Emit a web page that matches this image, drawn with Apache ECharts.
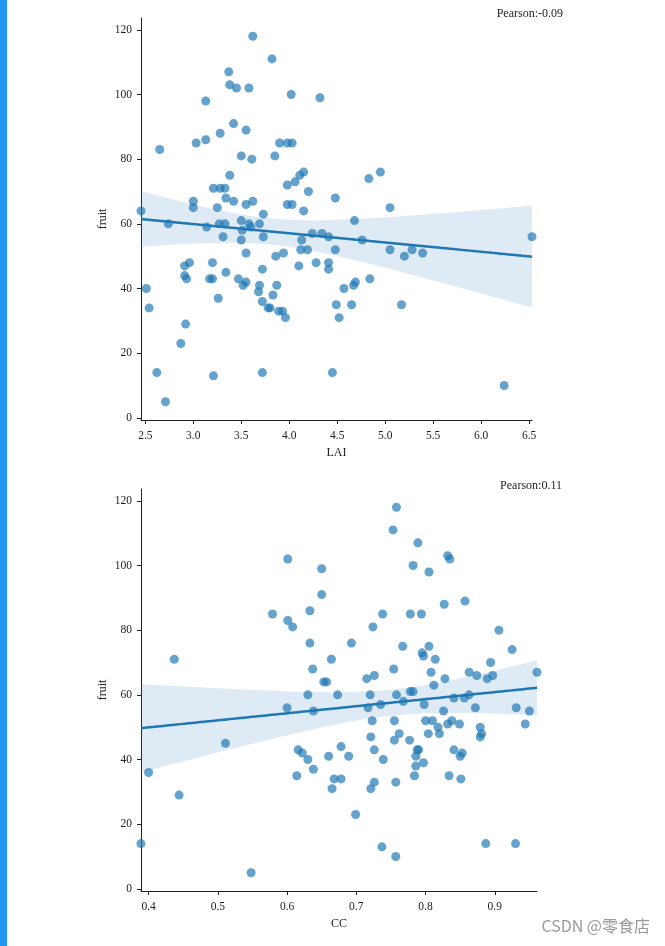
<!DOCTYPE html>
<html>
<head>
<meta charset="utf-8">
<script src="https://cdn.jsdelivr.net/npm/echarts@6/dist/echarts.min.js"></script>
<style>
html,body{margin:0;padding:0;background:#fff;}
#chart{width:665px;height:946px;}
</style>
</head>
<body>
<div id="chart"></div>
<script>
// LAI vs fruit
const laiPoints = [
[2.455,64],[2.65,83],[2.74,60],[3.0,67],[3.0,65],[3.03,85],[3.13,98],[3.13,86],[3.21,71],[3.25,65],
[3.28,88],[3.28,71],[3.33,71],[3.34,68],[3.37,107],[3.38,103],[3.38,75],[3.42,91],[3.42,67],[3.45,102],
[3.5,81],[3.55,89],[3.55,66],[3.58,102],[3.61,80],[3.62,118],[3.62,67],[3.82,111],[3.85,81],[3.9,85],
[3.98,85],[4.03,85],[4.02,100],[3.98,72],[3.98,66],[4.03,66],[4.06,73],[4.11,75],[4.15,76],[4.15,64],
[4.2,70],[4.32,99],[4.48,68],[4.68,61],[4.83,74],[4.95,76],[5.05,65],
[3.5,61],[3.58,60],[3.69,60],[3.73,63],
[3.14,59],[3.27,60],[3.33,60],[3.31,56],[3.51,58],[3.5,55],[3.6,59],[3.73,56],[3.55,51],[3.86,50],
[3.94,51],[4.13,55],[4.12,52],[4.19,52],[4.24,57],[4.34,57],[4.41,56],[4.48,52],[4.76,55],[5.05,52],
[5.2,50],[5.28,52],[5.39,51],[6.53,56],[2.91,47],[2.96,48],[2.91,44],[2.93,43],[2.51,40],[2.54,34],
[3.2,48],[3.17,43],[3.2,43],[3.34,45],[3.26,37],[2.92,29],[2.87,23],[2.62,14],[2.71,5],[3.21,13],
[3.47,43],[3.52,41],[3.55,42],[3.69,41],[3.68,39],[3.72,46],[3.72,36],[3.87,41],[3.83,38],[3.78,34],
[3.8,34],[3.89,33],[3.93,33],[3.96,31],[3.72,14],[4.1,47],[4.28,48],[4.41,48],[4.41,46],[4.49,35],
[4.52,31],[4.57,40],[4.65,35],[4.67,41],[4.69,42],[4.84,43],[5.17,35],[4.45,14],[6.24,10]
];

// CC vs fruit
const ccPoints = [
[0.437,71],[0.579,85],[0.601,102],[0.601,83],[0.608,81],[0.633,86],[0.633,76],[0.637,68],[0.65,99],[0.65,91],
[0.653,64],[0.657,64],[0.664,71],[0.63,60],[0.673,60],[0.693,76],[0.715,65],[0.72,60],[0.724,81],[0.726,66],
[0.738,85],[0.753,111],[0.758,118],[0.754,68],[0.758,60],[0.767,75],[0.778,85],[0.782,100],[0.789,107],[0.795,73],
[0.797,72],[0.794,85],[0.778,61],[0.782,61],[0.805,98],[0.805,75],[0.808,67],[0.814,71],[0.812,63],[0.827,88],
[0.828,65],[0.832,103],[0.835,102],[0.857,89],[0.863,67],[0.863,60],[0.874,66],[0.889,65],[0.894,70],[0.897,66],
[0.906,80],[0.925,74],[0.961,67],
[0.389,14],[0.4,36],[0.444,29],[0.511,45],[0.548,5],[0.6,56],[0.638,55],[0.616,43],[0.622,42],[0.63,40],
[0.614,35],[0.638,37],[0.66,41],[0.665,31],[0.668,34],[0.678,34],[0.678,44],[0.689,41],[0.699,23],[0.717,56],
[0.723,52],[0.721,47],[0.726,43],[0.721,31],[0.726,33],[0.735,57],[0.739,40],[0.737,13],[0.755,52],[0.755,46],
[0.762,48],[0.768,58],[0.757,33],[0.757,10],[0.777,46],[0.786,41],[0.788,43],[0.79,43],[0.786,38],[0.784,35],
[0.797,39],[0.798,57],[0.8,52],[0.81,52],[0.804,48],[0.818,50],[0.82,48],[0.826,55],[0.832,51],[0.838,52],
[0.841,59],[0.841,43],[0.834,35],[0.849,51],[0.85,41],[0.853,42],[0.851,34],[0.856,59],[0.872,56],[0.879,50],
[0.881,48],[0.879,47],[0.887,14],[0.93,14],[0.931,56],[0.944,51],[0.95,55]
];

const yTicks = [0,20,40,60,80,100,120];
const laiTicks = [2.5,3.0,3.5,4.0,4.5,5.0,5.5,6.0,6.5];
const ccTicks = [0.4,0.5,0.6,0.7,0.8,0.9];
const xNames = ['LAI','CC'];
const yName = 'fruit';
const pearsonLabels = ['Pearson:-0.09','Pearson:0.11'];

// least-squares fit with 95% confidence band (as seaborn regplot)
function regression(points){
  const n = points.length;
  const xs = points.map(p=>p[0]), ys = points.map(p=>p[1]);
  const mx = xs.reduce((a,b)=>a+b,0)/n, my = ys.reduce((a,b)=>a+b,0)/n;
  let sxx=0, sxy=0;
  for(let i=0;i<n;i++){ sxx+=(xs[i]-mx)**2; sxy+=(xs[i]-mx)*(ys[i]-my); }
  const b = sxy/sxx, a = my - b*mx;
  let sse=0;
  for(let i=0;i<n;i++){ sse += (ys[i]-(a+b*xs[i]))**2; }
  const s = Math.sqrt(sse/(n-2));
  const t = 1.98;
  const xmin = Math.min(...xs), xmax = Math.max(...xs);
  const line=[], upper=[], lower=[];
  const steps = 100;
  for(let k=0;k<=steps;k++){
    const x = xmin + (xmax-xmin)*k/steps;
    const yh = a + b*x;
    const se = s*Math.sqrt(1/n + (x-mx)**2/sxx);
    line.push([x,yh]); upper.push([x,yh+t*se]); lower.push([x,yh-t*se]);
  }
  return {line, upper, lower, xmin, xmax};
}

function yRange(points){
  const ys = points.map(p=>p[1]);
  const lo = Math.min(...ys), hi = Math.max(...ys), r = hi-lo;
  return [lo-0.05*r, hi+0.05*r];
}

const serif = 'Liberation Serif';
const ink = '#222';
const dotColor = 'rgba(31,119,180,0.86)';
const lineColor = '#1f77b4';

const panels = [
  {pts: laiPoints, ticks: laiTicks, grid:{left:141, top:18, width:391, height:402}},
  {pts: ccPoints, ticks: ccTicks, grid:{left:141, top:489, width:396, height:402}}
];

const grids=[], xAxes=[], yAxes=[], series=[];
panels.forEach((p,i)=>{
  const reg = regression(p.pts);
  const yr = yRange(p.pts);
  grids.push(p.grid);
  xAxes.push({
    type:'value', gridIndex:i, min:reg.xmin, max:reg.xmax,
    name:xNames[i], nameLocation:'middle', nameGap:27, nameMoveOverlap:false,
    nameTextStyle:{fontFamily:serif, fontSize:12, color:ink},
    axisLine:{show:true, onZero:false, lineStyle:{color:ink, width:1}},
    axisTick:{show:true, length:4, customValues:p.ticks, lineStyle:{color:ink, width:1}},
    axisLabel:{customValues:p.ticks, formatter:v=>Number(v).toFixed(1), fontFamily:serif, fontSize:11.5, color:ink, margin:10},
    splitLine:{show:false}
  });
  yAxes.push({
    type:'value', gridIndex:i, min:yr[0], max:yr[1],
    name:yName, nameLocation:'middle', nameGap:32, nameRotate:90, nameMoveOverlap:false,
    nameTextStyle:{fontFamily:serif, fontSize:12, color:ink},
    axisLine:{show:true, onZero:false, lineStyle:{color:ink, width:1}},
    axisTick:{show:true, length:4, customValues:yTicks, lineStyle:{color:ink, width:1}},
    axisLabel:{customValues:yTicks, fontFamily:serif, fontSize:11.5, color:ink, margin:9},
    splitLine:{show:false}
  });
  series.push({
    type:'scatter', xAxisIndex:i, yAxisIndex:i, data:p.pts, symbolSize:9,
    itemStyle:{color:dotColor}, z:2, silent:true
  });
  series.push({
    type:'custom', xAxisIndex:i, yAxisIndex:i, data:[[reg.xmin, 0]], clip:true, silent:true, z:3,
    renderItem:(params, api)=>{
      const up = reg.upper.map(q=>api.coord(q));
      const lo = reg.lower.slice().reverse().map(q=>api.coord(q));
      return {type:'polygon', shape:{points:up.concat(lo)}, style:{fill:'rgba(31,119,180,0.15)'}};
    }
  });
  series.push({
    type:'line', xAxisIndex:i, yAxisIndex:i, data:reg.line, showSymbol:false, silent:true, z:4,
    lineStyle:{color:lineColor, width:2.5}
  });
});

const chart = echarts.init(document.getElementById('chart'), null, {renderer:'canvas'});
chart.setOption({
  animation:false,
  grid:grids, xAxis:xAxes, yAxis:yAxes, series:series,
  graphic:[
    {type:'rect', left:0, top:0, shape:{x:0,y:0,width:7,height:946}, style:{fill:'#2196f3'}},
    {type:'text', right:102, top:8, style:{text:pearsonLabels[0], font:'12px "Liberation Serif"', fill:ink}},
    {type:'text', right:103, top:480, style:{text:pearsonLabels[1], font:'12px "Liberation Serif"', fill:ink}},
    {type:'text', right:15, top:918, style:{text:'CSDN @零食店', font:'16px "Noto Sans CJK SC"', fill:'#9a9a9a'}}
  ]
});
</script>
</body>
</html>
